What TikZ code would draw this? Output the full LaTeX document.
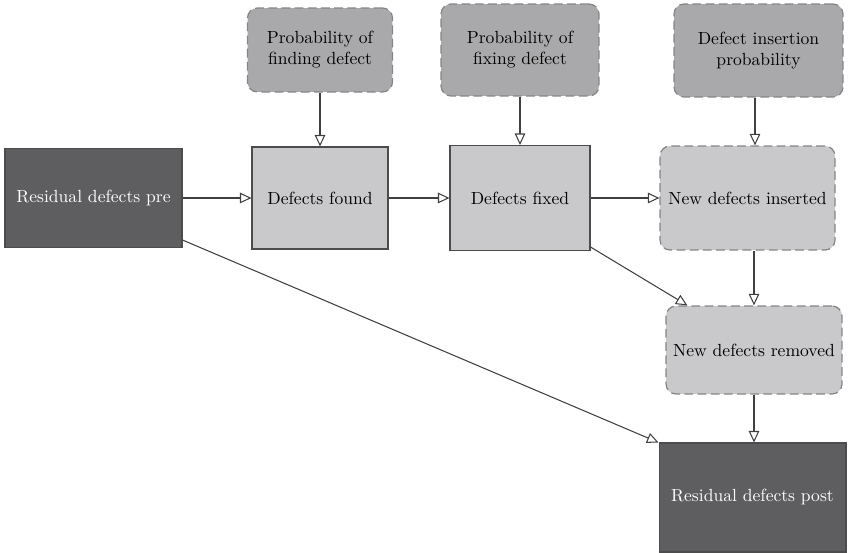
\documentclass[tikz,border=0pt]{standalone}
\usepackage{xcolor}
\usepackage{tikz}
\usetikzlibrary{arrows.meta,calc}
\definecolor{darkbox}{HTML}{5E5E60}
\definecolor{midbox}{HTML}{A9A9AB}
\definecolor{lightbox}{HTML}{C9C9CB}
\definecolor{edgegray}{HTML}{858587}

\begin{document}
\begin{tikzpicture}[x=0.02cm,y=-0.02cm,font=\normalsize,
  solidbox/.style={draw=black!70,line width=0.6pt,align=center,inner sep=2pt},
  dashbox/.style={draw=edgegray,line width=0.7pt,dash pattern=on 5pt off 2.5pt,rounded corners=0.2cm,align=center,inner sep=2pt},
  flow/.style={draw=black!75,line width=0.6pt,-{Triangle[open,length=0.23cm,width=0.21cm]}}]
\useasboundingbox (0,0) rectangle (848,553);
\node[solidbox,fill=darkbox,text=white,minimum width=3.54cm,minimum height=1.98cm] (pre) at (93.5,198) {Residual defects pre};
\node[solidbox,fill=lightbox,minimum width=2.72cm,minimum height=2.04cm] (found) at (320,198) {Defects found};
\node[solidbox,fill=lightbox,minimum width=2.8cm,minimum height=2.1cm] (fixed) at (520,198) {Defects fixed};
\node[dashbox,fill=lightbox,minimum width=3.5cm,minimum height=2.08cm] (inserted) at (747.5,198) {New defects inserted};
\node[dashbox,fill=midbox,minimum width=2.9cm,minimum height=1.68cm] (pfind) at (320,50) {Probability of\\finding defect};
\node[dashbox,fill=midbox,minimum width=3.16cm,minimum height=1.84cm] (pfix) at (520,50) {Probability of\\fixing defect};
\node[dashbox,fill=midbox,minimum width=3.38cm,minimum height=1.86cm] (pins) at (758.5,50.5) {Defect insertion\\probability};
\node[dashbox,fill=lightbox,minimum width=3.52cm,minimum height=1.76cm] (removed) at (754,350) {New defects removed};
\node[solidbox,fill=darkbox,text=white,minimum width=3.74cm,minimum height=2.18cm] (post) at (752.5,497.5) {Residual defects post};
\draw[flow] (pfind) -- (found);
\draw[flow] (pfix) -- (fixed);
\draw[flow] (pins.south -| 755,0) -- (inserted.north -| 755,0);
\draw[flow] (pre) -- (found);
\draw[flow] (found) -- (fixed);
\draw[flow] (fixed) -- (inserted);
\draw[flow] ($(fixed.south east)+(0,-4)$) -- ($(removed.north west)+(22,0)$);
\draw[flow] (inserted.south -| removed) -- (removed);
\draw[flow] (removed) -- (removed |- post.north);
\draw[flow] ($(pre.south east)+(0,-8)$) -- (post.north west);
\end{tikzpicture}
\end{document}
